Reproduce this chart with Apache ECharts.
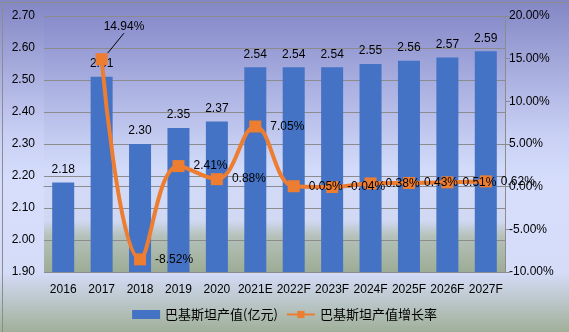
<!DOCTYPE html>
<html><head><meta charset="utf-8">
<script src="https://cdn.jsdelivr.net/npm/echarts@6/dist/echarts.min.js"></script>
<style>html,body{margin:0;padding:0;}#c{width:569px;height:332px;}</style>
</head><body><div id="c"></div>
<script>
var categories = ['2016','2017','2018','2019','2020','2021E','2022F','2023F','2024F','2025F','2026F','2027F'];
var outputValues = [2.18, 2.51, 2.30, 2.35, 2.37, 2.54, 2.54, 2.54, 2.55, 2.56, 2.57, 2.59];
var growthRates = [null, 14.94, -8.52, 2.41, 0.88, 7.05, 0.05, -0.04, 0.38, 0.43, 0.51, 0.62];
var barName = '巴基斯坦产值(亿元)';
var lineName = '巴基斯坦产值增长率';
var calloutIndex = 1;

var lineData = growthRates.map(function(v, i){
  var item = {value: v};
  if (i === calloutIndex) item.labelLine = {show:true, lineStyle:{color:'#000', width:1}, length2:0};
  return item;
});

var FONT = '"Liberation Sans", "Noto Sans CJK SC", sans-serif';
var chart = echarts.init(document.getElementById('c'));
chart.setOption({
  animation: false,
  backgroundColor: {type:'linear', x:0, y:0, x2:0, y2:1, colorStops:[
    {offset:0, color:'#8286c4'}, {offset:0.4, color:'#c8cff4'}, {offset:0.55, color:'#d6defc'},
    {offset:0.82, color:'#d4dcf8'}, {offset:1, color:'#a0b099'}]},
  textStyle: {fontFamily: FONT},
  graphic: [{type:'rect', left:0, top:0, shape:{width:568, height:331}, style:{fill:'none', stroke:'#8c8c8c', lineWidth:1}, silent:true}],
  grid: {left:44, right:64, top:16, bottom:60, show:true, borderWidth:0,
    backgroundColor: {type:'linear', x:0, y:0, x2:0, y2:1, colorStops:[
      {offset:0, color:'#888ccb'}, {offset:0.6, color:'#d3dbfa'}, {offset:0.8, color:'#d0d8f2'},
      {offset:0.86, color:'#b5c1ba'}, {offset:1, color:'#9dac95'}]}},
  legend: {bottom:6, left:'center', itemGap:8, itemWidth:28, itemHeight:9,
    textStyle:{fontSize:13, color:'#000', fontFamily:'"Noto Sans CJK SC", sans-serif'},
    data:[{name:barName, icon:'rect'}, {name:lineName}]},
  xAxis: {type:'category', data:categories,
    axisLine:{show:true, lineStyle:{color:'#8c8c8c', width:1}},
    axisTick:{show:false},
    axisLabel:{color:'#000', fontSize:12, margin:12, interval:0, fontFamily:FONT}},
  yAxis: [
    {type:'value', min:1.9, max:2.7, interval:0.1,
     axisLine:{show:false}, axisTick:{show:false},
     axisLabel:{color:'#000', fontSize:12, margin:9, formatter:function(v){return v.toFixed(2);}},
     splitLine:{lineStyle:{color:'#8c8c8c', width:1}}},
    {type:'value', min:-10, max:20, interval:5, position:'right',
     axisLine:{show:true, lineStyle:{color:'#8c8c8c'}},
     axisTick:{show:true, length:5, lineStyle:{color:'#8c8c8c'}},
     axisLabel:{color:'#000', fontSize:12, margin:4, formatter:function(v){return v.toFixed(2)+'%';}},
     splitLine:{show:false}}
  ],
  series: [
    {name:barName, type:'bar', data:outputValues, barWidth:22, itemStyle:{color:'#4472C4'},
     label:{show:true, position:'top', distance:7, color:'#000', fontSize:12, formatter:function(p){return p.value.toFixed(2);}}},
    {name:lineName, type:'line', yAxisIndex:1, data:lineData, smooth:0.4, connectNulls:false,
     symbol:'rect', symbolSize:12, showAllSymbol:true,
     lineStyle:{color:'#ED7D31', width:4}, itemStyle:{color:'#ED7D31'},
     label:{show:true, position:'right', distance:9, color:'#000', fontSize:12,
       formatter:function(p){return p.value==null?'':p.value.toFixed(2)+'%';}},
     labelLayout:function(p){ if(p.dataIndex===calloutIndex){ return {dx:-13, dy:-32}; } return {}; },
     labelLine:{show:false}}
  ]
});
</script></body></html>
